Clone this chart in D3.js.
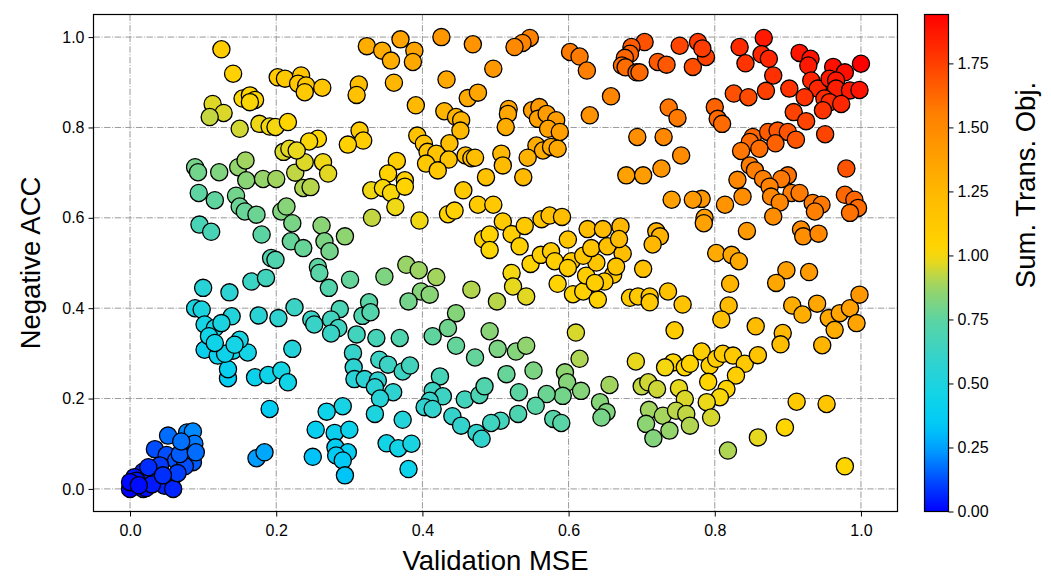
<!DOCTYPE html>
<html><head><meta charset="utf-8">
<script src="https://cdn.jsdelivr.net/npm/d3@7"></script>
<style>body{margin:0;background:#fff}svg{display:block}text{font-family:"Liberation Sans",Arial,sans-serif}</style>
</head><body><svg id="c" width="1051" height="577"></svg>
<script>
const mse = [0.078,0.086,0.052,0.082,0.088,0.034,0.05,0.063,0.086,0.075,0.027,0.018,0.041,0.006,0.056,0.038,0.0,0.018,0.009,0.022,0.047,0.0,0.059,0.068,0.09,0.041,0.025,0.03,0.012,0.065,0.07,0.045,
0.191,0.173,0.184,0.102,0.12,0.134,0.134,0.141,0.161,0.171,0.189,0.207,0.216,0.13,0.222,
0.094,0.116,0.095,0.111,0.145,0.15,0.157,0.173,0.207,0.214,0.222,0.22,0.18,0.193,0.199,0.166,0.186,0.1,0.136,0.089,0.098,0.139,0.176,0.203,0.102,0.116,0.125,0.108,0.116,0.15,0.143,0.225,
0.125,0.141,0.202,0.212,0.154,0.164,0.171,0.164,0.113,0.128,0.109,0.15,0.177,0.191,0.199,0.216,0.21,0.218,0.089,0.093,0.122,0.148,0.158,0.159,0.182,0.2,0.226,
0.324,0.345,0.37,0.389,0.387,0.357,0.426,0.469,0.497,0.433,0.361,0.313,0.31,0.234,0.23,0.241,0.239,0.263,0.462,0.476,0.391,0.43,0.446,0.453,0.452,0.393,0.314,0.319,0.298,0.257,0.245,0.402,0.407,0.437,0.419,0.436,0.459,0.467,0.472,0.405,0.421,0.365,0.353,0.376,0.487,0.239,0.228,0.264,0.271,
0.547,0.537,0.526,0.602,0.615,0.625,0.704,0.686,0.684,0.677,0.673,0.678,0.693,0.697,0.722,0.734,0.752,0.77,0.658,0.629,0.737,0.749,0.518,0.517,0.514,0.55,0.56,0.558,0.57,0.583,0.572,0.588,0.556,0.565,0.576,0.585,0.544,0.508,0.51,0.538,0.694,0.73,0.754,0.679,0.702,0.727,
0.867,0.834,0.864,0.874,0.842,0.788,0.777,0.88,0.87,0.902,0.916,0.931,0.928,0.962,0.978,1.0,0.932,0.941,0.957,0.966,0.966,0.985,0.998,0.923,0.95,0.957,0.948,0.973,0.908,0.925,0.951,0.826,0.846,0.8,0.804,0.81,0.852,0.848,0.873,0.886,0.9,0.911,0.883,0.861,0.836,0.848,0.855,0.866,0.9,0.891,0.831,0.98,0.783,
0.838,0.814,0.782,0.786,0.785,0.875,0.905,0.916,0.877,0.889,0.88,0.934,0.946,0.937,0.978,0.991,0.996,0.985,0.844,0.918,0.921,0.942,0.802,0.823,0.833,0.898,0.884,0.929,0.821,0.819,0.809,0.856,0.893,0.89,0.906,0.92,0.94,0.956,0.964,0.971,0.985,0.994,0.998,0.947,
0.782,0.793,0.802,0.811,0.825,0.841,0.859,0.829,0.791,0.816,0.807,0.789,0.795,0.818,0.859,0.896,0.912,0.953,0.978,
0.503,0.528,0.542,0.515,0.552,0.615,0.595,0.598,0.617,0.592,0.57,0.532,0.555,0.531,0.507,0.579,0.59,0.656,0.643,0.652,0.645,0.692,0.7,0.709,0.721,0.743,0.732,0.759,0.766,0.751,0.759,0.71,0.729,0.747,0.761,0.706,0.738,0.716,0.766,
0.305,0.341,0.353,0.373,0.383,0.306,0.307,0.321,0.339,0.335,0.36,0.342,0.335,0.291,0.269,0.254,0.28,0.3,0.281,0.298,0.282,0.25,0.291,0.294,0.373,0.351,0.367,0.385,0.381,0.424,0.414,0.428,0.41,0.403,0.414,0.441,0.458,0.478,0.485,0.453,0.474,0.481,0.494,0.472,0.446,
0.237,0.247,0.33,0.346,0.357,0.376,0.363,0.331,0.396,0.456,0.476,0.435,0.444,0.483,0.492,0.492,0.237,0.262,0.266,0.273,0.294,0.257,0.259,0.272,0.301,0.348,0.378,0.395,0.419,0.398,0.41,0.381,0.467,0.446,0.502,0.327,0.318,0.329,0.287,0.275,0.285,0.248,0.252,0.275,0.31,0.337,0.369,0.414,0.435,0.492,
0.741,0.77,0.497,0.51,0.522,0.54,0.533,0.563,0.574,0.591,0.548,0.562,0.576,0.581,0.599,0.604,0.599,0.585,0.606,0.62,0.64,0.624,0.638,0.62,0.631,0.626,0.647,0.671,0.653,0.674,0.661,0.649,0.665,0.702,0.669,0.636,0.72,0.725,0.715,0.684,0.695,0.711,0.736,0.756,0.711,0.745,0.61,0.522,0.524,0.542];
const acc = [0.125,0.127,0.118,0.096,0.1,0.088,0.075,0.063,0.059,0.05,0.046,0.038,0.04,0.026,0.015,0.018,0.0,0.0,0.018,0.002,0.007,0.015,0.0,0.077,0.081,0.052,0.048,0.01,0.008,0.035,0.105,0.03,
0.177,0.068,0.081,0.308,0.295,0.245,0.265,0.306,0.302,0.247,0.252,0.262,0.236,0.299,0.31,
0.655,0.639,0.585,0.569,0.649,0.625,0.614,0.607,0.614,0.625,0.588,0.548,0.563,0.511,0.507,0.459,0.467,0.445,0.435,0.4,0.397,0.382,0.384,0.378,0.364,0.356,0.367,0.338,0.323,0.33,0.319,0.402,
0.973,0.919,0.911,0.908,0.864,0.871,0.861,0.856,0.852,0.832,0.823,0.797,0.808,0.802,0.801,0.812,0.746,0.753,0.712,0.701,0.701,0.712,0.727,0.683,0.686,0.686,0.70,
0.98,0.97,0.995,0.97,0.945,0.948,1.0,0.984,0.93,0.906,0.899,0.895,0.872,0.915,0.897,0.893,0.878,0.888,0.865,0.877,0.849,0.836,0.823,0.816,0.793,0.782,0.793,0.771,0.762,0.775,0.769,0.764,0.746,0.765,0.742,0.729,0.738,0.732,0.733,0.72,0.705,0.726,0.698,0.683,0.69,0.723,0.749,0.723,0.698,
0.998,0.987,0.978,0.967,0.957,0.926,0.989,0.978,0.963,0.954,0.937,0.933,0.922,0.922,0.945,0.939,0.981,0.934,0.869,0.827,0.844,0.821,0.841,0.83,0.801,0.838,0.845,0.819,0.83,0.816,0.797,0.79,0.76,0.749,0.757,0.753,0.733,0.742,0.716,0.69,0.779,0.779,0.738,0.694,0.694,0.709,
0.998,0.978,0.962,0.952,0.942,0.956,0.989,0.915,0.881,0.886,0.965,0.952,0.937,0.934,0.922,0.941,0.904,0.886,0.908,0.904,0.886,0.882,0.883,0.867,0.864,0.856,0.838,0.852,0.834,0.814,0.785,0.875,0.867,0.845,0.819,0.808,0.779,0.768,0.79,0.793,0.79,0.773,0.765,0.753,0.748,0.716,0.705,0.686,0.694,0.686,0.684,0.709,0.975,
0.647,0.629,0.642,0.6,0.588,0.669,0.655,0.655,0.647,0.634,0.603,0.633,0.629,0.614,0.651,0.64,0.622,0.611,0.571,0.574,0.559,0.565,0.522,0.518,0.504,0.484,0.456,0.48,0.454,0.406,0.375,0.36,0.345,0.32,0.406,0.386,0.41,0.378,0.352,0.389,0.4,0.367,0.43,0.318,
0.304,0.273,0.288,0.299,0.295,0.277,0.296,0.251,0.237,0.221,0.203,0.192,0.158,0.085,0.114,0.136,0.193,0.188,0.05,
0.31,0.304,0.317,0.254,0.262,0.288,0.258,0.236,0.217,0.206,0.21,0.214,0.184,0.166,0.151,0.155,0.146,0.23,0.192,0.17,0.158,0.282,0.227,0.236,0.221,0.28,0.269,0.269,0.277,0.223,0.199,0.175,0.162,0.173,0.166,0.144,0.129,0.112,0.14,
0.301,0.286,0.275,0.26,0.273,0.269,0.243,0.243,0.24,0.225,0.214,0.2,0.166,0.183,0.171,0.131,0.124,0.131,0.092,0.081,0.074,0.071,0.063,0.03,0.153,0.101,0.09,0.1,0.044,0.249,0.217,0.205,0.195,0.181,0.177,0.161,0.198,0.208,0.227,0.14,0.124,0.111,0.146,0.291,0.317,
0.666,0.668,0.661,0.666,0.655,0.669,0.624,0.6,0.594,0.661,0.629,0.608,0.616,0.553,0.563,0.529,0.533,0.583,0.548,0.526,0.559,0.491,0.478,0.445,0.463,0.47,0.496,0.484,0.469,0.437,0.43,0.415,0.441,0.389,0.415,0.413,0.383,0.391,0.398,0.375,0.356,0.375,0.364,0.344,0.342,0.334,0.334,0.338,0.356,0.349,
0.64,0.64,0.629,0.592,0.564,0.582,0.537,0.597,0.605,0.602,0.498,0.518,0.526,0.504,0.552,0.504,0.489,0.454,0.431,0.437,0.419,0.472,0.501,0.516,0.533,0.575,0.575,0.581,0.537,0.521,0.474,0.459,0.492,0.487,0.553,0.456,0.57,0.559,0.541,0.423,0.426,0.426,0.437,0.408,0.413,0.351,0.346,0.478,0.448,0.426];
const axisTicks = [0.0,0.2,0.4,0.6,0.8,1.0];
const axisTickLabels = ["0.0","0.2","0.4","0.6","0.8","1.0"];
const cbTicks = [0,0.25,0.5,0.75,1.0,1.25,1.5,1.75];
const cbTickLabels = ["0.00","0.25","0.50","0.75","1.00","1.25","1.50","1.75"];
const cmapStops = [0,0.06,0.12,0.17,0.23,0.3,0.38,0.45,0.48,0.505,0.53,0.65,0.8,1.0];
const cmapColors = ["#0000ff","#0048ff","#0098ff","#00c8f8","#10d4e8","#30d2d0","#58d4a6","#98d468","#c4d640","#ecd818","#ffd500","#ffb600","#ff8000","#ff0000"];

const svg = d3.select("#c");
const L=93.5,R=897.5,T=14.5,B=511.5;
const x = d3.scaleLinear().domain([-0.05,1.05]).range([L,R]);
const y = d3.scaleLinear().domain([-0.05,1.05]).range([B,T]);
const sums = mse.map((v,i)=>v+acc[i]);
const vmax = d3.max(sums);
const color = d3.scaleLinear().domain(cmapStops.map(s=>s*vmax)).range(cmapColors).interpolate(d3.interpolateRgb).clamp(true);

const g = svg.append("g");
g.selectAll(".gx").data(axisTicks).join("line").attr("x1",d=>x(d)).attr("x2",d=>x(d)).attr("y1",T).attr("y2",B)
 .attr("stroke","#9a9a9a").attr("stroke-width",1).attr("stroke-dasharray","6.4,1.6,1,1.6");
g.selectAll(".gy").data(axisTicks).join("line").attr("y1",d=>y(d)).attr("y2",d=>y(d)).attr("x1",L).attr("x2",R)
 .attr("stroke","#9a9a9a").attr("stroke-width",1).attr("stroke-dasharray","6.4,1.6,1,1.6");

svg.append("defs").append("clipPath").attr("id","pc").append("rect").attr("x",L).attr("y",T).attr("width",R-L).attr("height",B-T);
svg.append("g").attr("clip-path","url(#pc)").selectAll("circle").data(mse.map((v,i)=>i)).join("circle")
 .attr("cx",i=>x(mse[i])).attr("cy",i=>y(acc[i])).attr("r",8.6)
 .attr("fill",i=>color(sums[i])).attr("stroke","#000").attr("stroke-width",1.3);

const xa = d3.axisBottom(x).tickValues(axisTicks).tickFormat((d,i)=>axisTickLabels[i]).tickSize(5).tickPadding(4);
const ya = d3.axisLeft(y).tickValues(axisTicks).tickFormat((d,i)=>axisTickLabels[i]).tickSize(5).tickPadding(4);
const gx = svg.append("g").attr("transform",`translate(0,${B})`).call(xa);
const gy = svg.append("g").attr("transform",`translate(${L},0)`).call(ya);
[gx,gy].forEach(a=>{a.select(".domain").remove();a.selectAll("text").attr("font-size",16).attr("fill","#000").style("font-family",'"Liberation Sans",Arial,sans-serif');a.selectAll("line").attr("stroke","#000").attr("stroke-width",1);});
gx.selectAll("text").attr("dy","0.95em");
svg.append("rect").attr("x",L).attr("y",T).attr("width",R-L).attr("height",B-T).attr("fill","none").attr("stroke","#000").attr("stroke-width",1.2);

svg.append("text").attr("x",(L+R)/2).attr("y",570).attr("text-anchor","middle").attr("font-size",27.5).text("Validation MSE");
svg.append("text").attr("transform",`translate(40,${(T+B)/2}) rotate(-90)`).attr("text-anchor","middle").attr("font-size",27.5).text("Negative ACC");

const cbL=924.5,cbR=948.5;
const cy = d3.scaleLinear().domain([0,vmax]).range([B,T]);
const grad = svg.select("defs").append("linearGradient").attr("id","cbg").attr("x1",0).attr("y1",1).attr("x2",0).attr("y2",0);
d3.range(0,1.0001,0.02).forEach(t=>grad.append("stop").attr("offset",t).attr("stop-color",color(t*vmax)));
svg.append("rect").attr("x",cbL).attr("y",T).attr("width",cbR-cbL).attr("height",B-T).attr("fill","url(#cbg)").attr("stroke","#000").attr("stroke-width",1.2);
const ca = d3.axisRight(cy).tickValues(cbTicks).tickFormat((d,i)=>cbTickLabels[i]).tickSize(5).tickPadding(4);
const gc = svg.append("g").attr("transform",`translate(${cbR},0)`).call(ca);
gc.select(".domain").remove();
gc.selectAll("text").attr("font-size",16).attr("fill","#000").style("font-family",'"Liberation Sans",Arial,sans-serif');
gc.selectAll("line").attr("stroke","#000");
svg.append("text").attr("transform",`translate(1035,185) rotate(-90)`).attr("text-anchor","middle").attr("font-size",27.5).text("Sum. Trans. Obj.");
</script></body></html>
